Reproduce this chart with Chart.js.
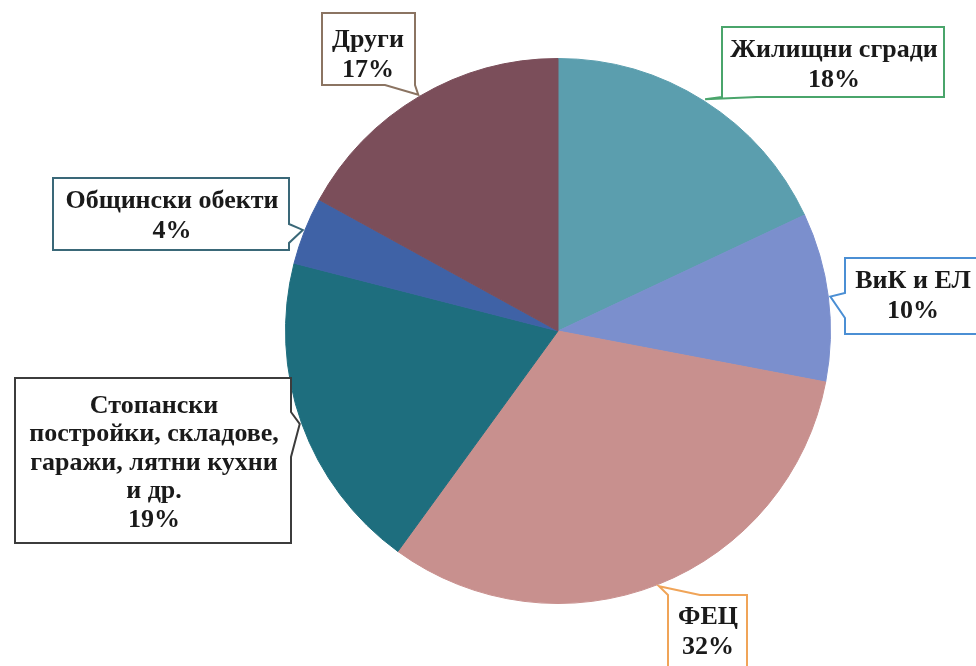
<!DOCTYPE html>
<html>
<head>
<meta charset="utf-8">
<script src="https://cdn.jsdelivr.net/npm/chart.js@4"></script>
<style>
  html, body { margin: 0; padding: 0; background: #fff; }
  #wrap { width: 976px; height: 666px; }
</style>
</head>
<body>
<div id="wrap"><canvas id="pieChart" width="976" height="666"></canvas></div>
<script>
const categories = [
  "Жилищни сгради",
  "ВиК и ЕЛ",
  "ФЕЦ",
  "Стопански постройки, складове, гаражи, лятни кухни и др.",
  "Общински обекти",
  "Други",
];
const shares = [18, 10, 32, 19, 4, 17];
const labelLines = [
  ["Жилищни сгради"],
  ["ВиК и ЕЛ"],
  ["ФЕЦ"],
  ["Стопански", "постройки, складове,", "гаражи, лятни кухни", "и др."],
  ["Общински обекти"],
  ["Други"],
];

const sliceColors = ["#5b9eae", "#7b8fcd", "#c8908e", "#1e6e7e", "#3f62a6", "#7b4e5a"];
const boxColors = ["#4aa56b", "#4b8fd4", "#f0a458", "#3c3c3c", "#3a6878", "#8b7462"];

// callout boxes: rectangle + side where the pointer leaves the box
const callouts = [
  { x: 722, y: 27, w: 222, h: 70, side: "bottom", p1: 722, p2: 757, tx: 834, ty: 50 },
  { x: 845, y: 258, w: 140, h: 76, side: "left", p1: 293, p2: 318, tx: 913, ty: 281 },
  { x: 668, y: 595, w: 79, h: 80, side: "top", p1: 668, p2: 700, tx: 708, ty: 617 },
  { x: 15, y: 378, w: 276, h: 165, side: "right", p1: 412, p2: 457, tx: 154, ty: 406 },
  { x: 53, y: 178, w: 236, h: 72, side: "right", p1: 224, p2: 243, tx: 172, ty: 201 },
  { x: 322, y: 13, w: 93, h: 72, side: "bottom", p1: 385, p2: 415, tx: 368, ty: 40 },
];

const calloutPlugin = {
  id: "callouts",
  afterDatasetsDraw(chart) {
    const ctx = chart.ctx;
    const meta = chart.getDatasetMeta(0);
    ctx.save();
    meta.data.forEach((arc, i) => {
      const b = callouts[i];
      const p = arc.getProps(["x", "y", "startAngle", "endAngle", "outerRadius"], true);
      const mid = (p.startAngle + p.endAngle) / 2;
      const tip = {
        x: p.x + Math.cos(mid) * (p.outerRadius + 2),
        y: p.y + Math.sin(mid) * (p.outerRadius + 2),
      };
      ctx.beginPath();
      ctx.moveTo(b.x, b.y);
      if (b.side === "top") { ctx.lineTo(b.p1, b.y); ctx.lineTo(tip.x, tip.y); ctx.lineTo(b.p2, b.y); }
      ctx.lineTo(b.x + b.w, b.y);
      if (b.side === "right") { ctx.lineTo(b.x + b.w, b.p1); ctx.lineTo(tip.x, tip.y); ctx.lineTo(b.x + b.w, b.p2); }
      ctx.lineTo(b.x + b.w, b.y + b.h);
      if (b.side === "bottom") { ctx.lineTo(b.p2, b.y + b.h); ctx.lineTo(tip.x, tip.y); ctx.lineTo(b.p1, b.y + b.h); }
      ctx.lineTo(b.x, b.y + b.h);
      if (b.side === "left") { ctx.lineTo(b.x, b.p2); ctx.lineTo(tip.x, tip.y); ctx.lineTo(b.x, b.p1); }
      ctx.closePath();
      ctx.fillStyle = "#fff";
      ctx.fill();
      ctx.lineWidth = 2;
      ctx.strokeStyle = boxColors[i];
      ctx.stroke();

      const lines = labelLines[i].concat([shares[i] + "%"]);
      const step = lines.length > 2 ? 28.5 : 30;
      ctx.fillStyle = "#1a1a1a";
      ctx.font = "bold 26px 'Liberation Serif', 'Times New Roman', serif";
      ctx.textAlign = "center";
      ctx.textBaseline = "middle";
      lines.forEach((t, k) => ctx.fillText(t, b.tx, b.ty + k * step));
    });
    ctx.restore();
  },
};

new Chart(document.getElementById("pieChart"), {
  type: "pie",
  data: {
    labels: categories,
    datasets: [{
      data: shares,
      backgroundColor: sliceColors,
      borderColor: sliceColors,
      borderWidth: 1,
    }],
  },
  options: {
    responsive: false,
    animation: false,
    layout: { padding: { left: 200, right: 60, top: 58, bottom: 62 } },
    plugins: {
      legend: { display: false },
      tooltip: { enabled: false },
    },
  },
  plugins: [calloutPlugin],
});
</script>
</body>
</html>
